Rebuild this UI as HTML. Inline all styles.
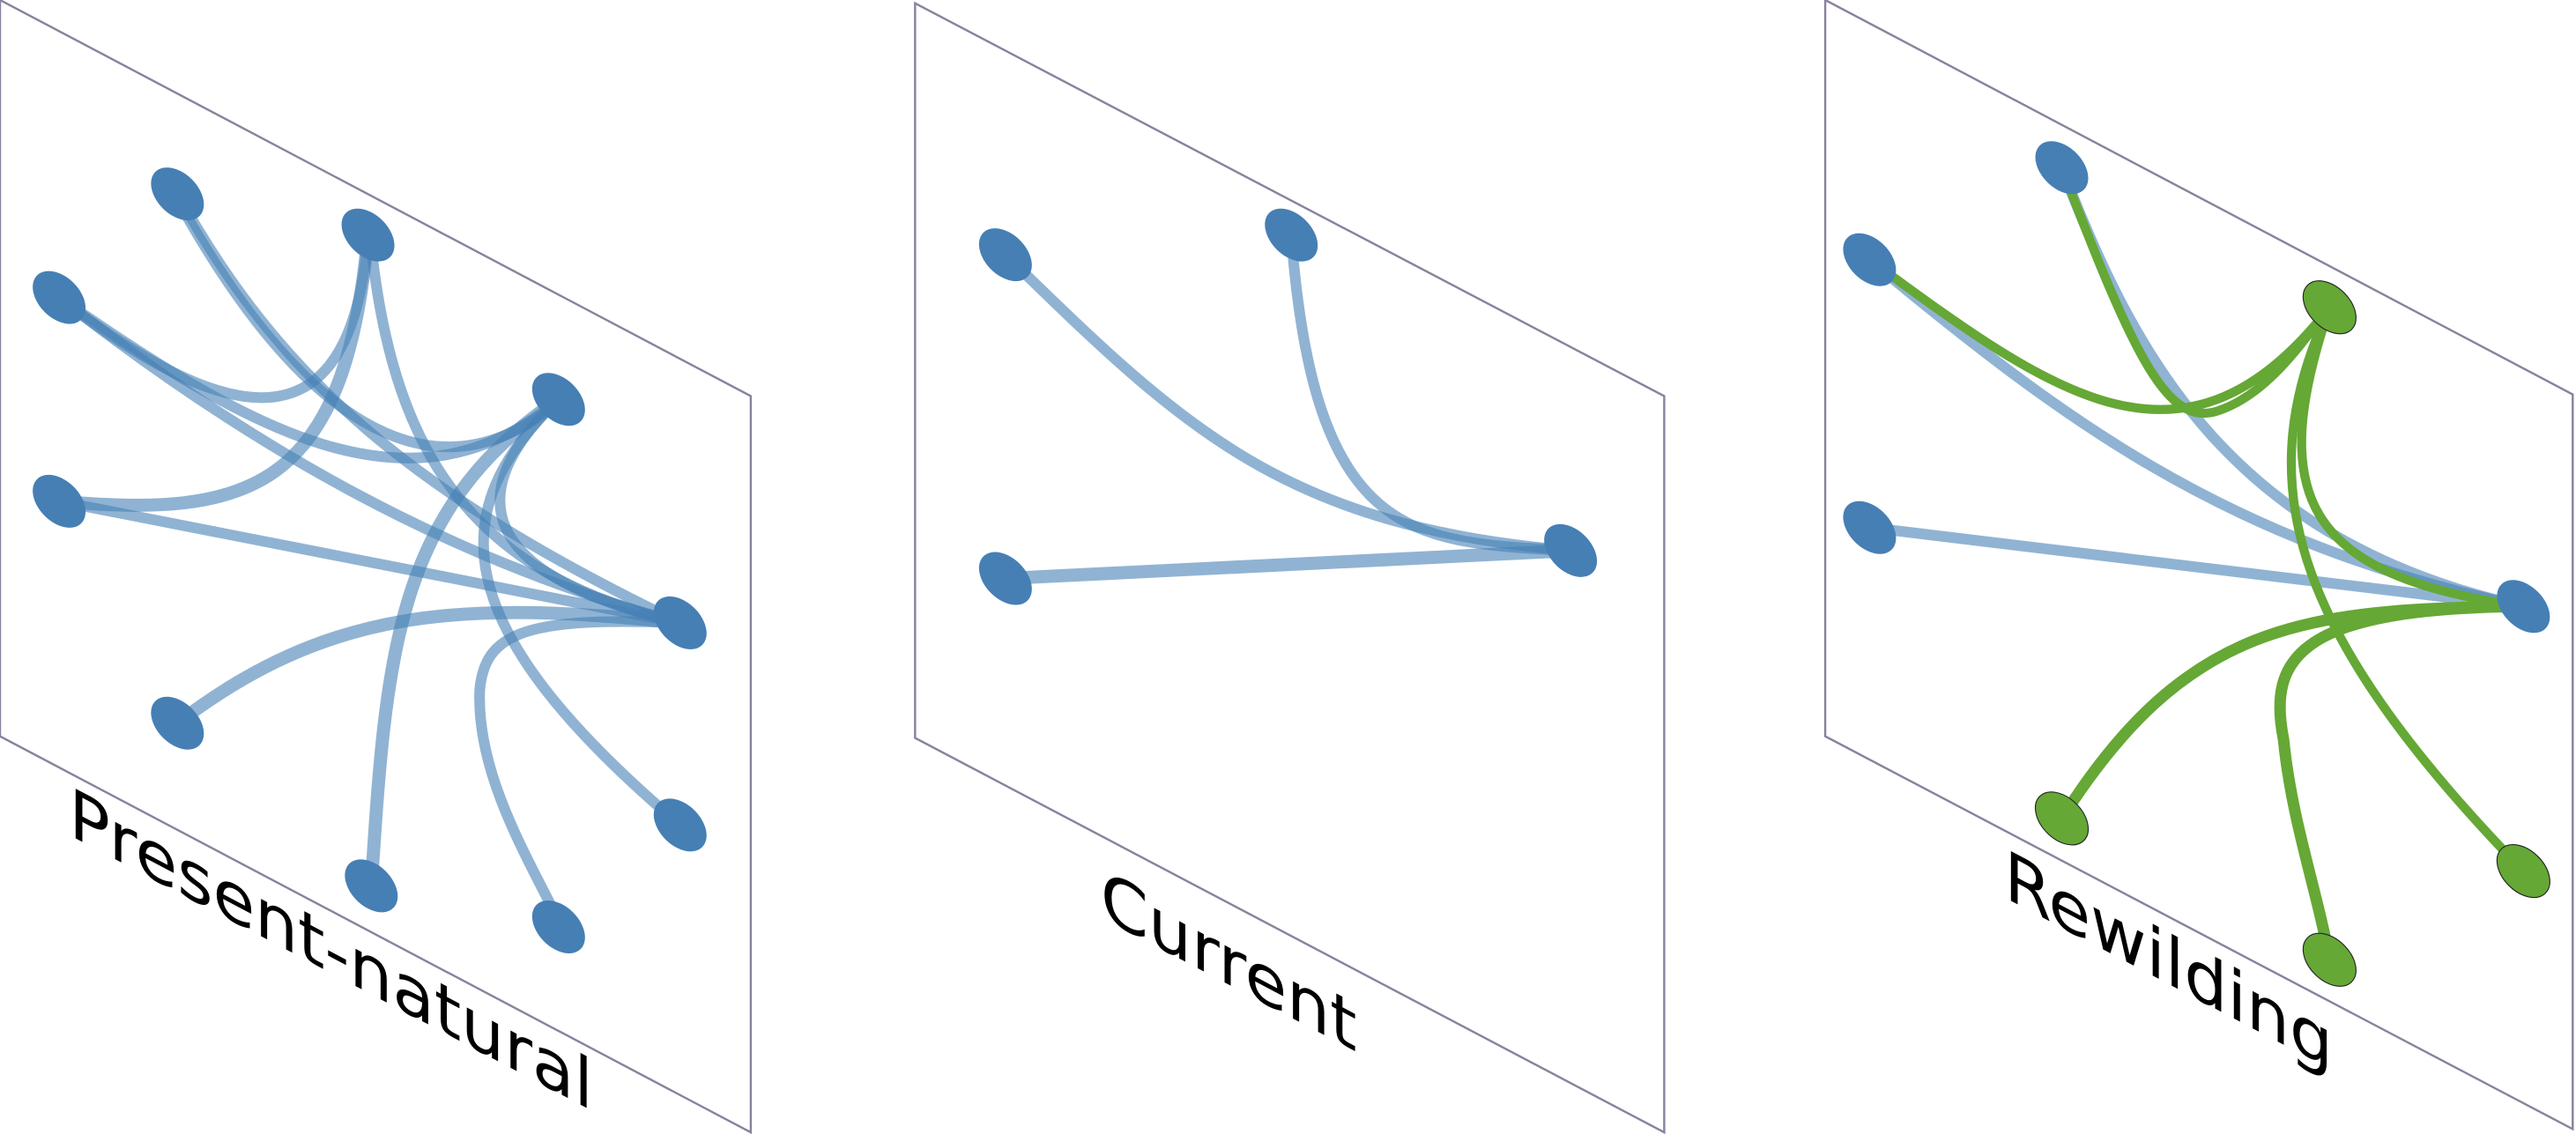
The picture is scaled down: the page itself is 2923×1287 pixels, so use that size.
<!DOCTYPE html>
<html><head><meta charset="utf-8"><style>
html,body{margin:0;padding:0;background:#fff;width:2923px;height:1287px;overflow:hidden}
svg{display:block}
text{font-family:"DejaVu Sans","Liberation Sans",sans-serif}
</style></head><body>
<svg id="chart" width="2923" height="1287" viewBox="0 0 1568 690" preserveAspectRatio="none" xmlns="http://www.w3.org/2000/svg">
<g id="frames"></g><g id="edges"></g><g id="nodes"></g><g id="labels"></g>
</svg>
<script>
const panelNames = ["Present-natural","Current","Rewilding"];
const panelFrames = [[0,0,457,241,457,689,0,448],[557,2,1013,241,1013,689,557,449],[1111,0,1566,240,1566,687,1111,448]];
const labelPos = [[42,508],[670,558],[1220,546]];
// nodes: [x, y, group] group 0 blue, 1 green
const nodes0 = [[108,118,0],[224,143,0],[36,181,0],[340,243,0],[36,305,0],[414,379,0],[108,440,0],[226,539,0],[340,564,0],[414,502,0]];
const nodes1 = [[612,155,0],[786,143,0],[612,352,0],[956,335,0]];
const nodes2 = [[1255,102,0],[1138,158,0],[1138,321,0],[1536,369,0],[1418,187,1],[1255,498,1],[1536,530,1],[1418,584,1]];
// edges: path strings, colour group, width
const edges0 = [
 ["M108,118 C170,230 250,300 414,379",0,6.5],
 ["M110,125 C180,250 260,310 338,246",0,6.5],
 ["M224,143 C215,265 150,270 36,181",0,6.5],
 ["M224,143 C210,300 150,315 36,305",0,8],
 ["M226,150 C240,280 290,350 414,379",0,6.5],
 ["M36,181 C150,260 250,320 340,243",0,6.5],
 ["M36,181 C150,270 270,340 414,379",0,6.5],
 ["M36,305 L414,379",0,6.5],
 ["M340,243 C280,300 290,350 414,379",0,6.5],
 ["M340,243 C240,310 235,400 226,539",0,8],
 ["M340,243 C270,310 270,380 414,502",0,6.5],
 ["M108,440 C200,370 280,365 414,379",0,8],
 ["M414,379 C320,375 295,385 292,420 C290,470 320,520 340,560",0,6.5]];
const edges1 = [
 ["M612,155 C720,260 780,320 956,335",0,6.5],
 ["M786,143 C800,330 860,330 956,335",0,6.5],
 ["M612,352 L956,335",0,8]];
const edges2 = [
 ["M1138,158 C1250,250 1350,330 1536,369",0,6.5],
 ["M1255,102 C1300,220 1360,330 1536,369",0,6.5],
 ["M1138,321 L1536,369",0,6.5],
 ["M1255,102 C1300,220 1320,260 1350,250 C1380,240 1400,210 1418,187",1,5.5],
 ["M1138,158 C1250,240 1330,300 1418,187",1,5.5],
 ["M1418,187 C1380,300 1400,350 1536,369",1,5.5],
 ["M1418,187 C1370,290 1390,380 1536,530",1,5.5],
 ["M1536,369 C1400,370 1330,380 1255,498",1,7],
 ["M1536,369 C1400,370 1380,400 1390,450 C1395,500 1410,540 1418,584",1,7]];
const NS="http://www.w3.org/2000/svg";
const edgeCol=["rgba(70,128,181,0.6)","#65a835"], nodeCol=["#467fb4","#65a835"];
const fG=document.getElementById('frames'),eG=document.getElementById('edges'),nG=document.getElementById('nodes'),lG=document.getElementById('labels');
panelFrames.forEach((f,i)=>{
 const p=document.createElementNS(NS,'polygon');
 p.setAttribute('points',`${f[0]},${f[1]} ${f[2]},${f[3]} ${f[4]},${f[5]} ${f[6]},${f[7]}`);
 p.setAttribute('fill','none');p.setAttribute('stroke','#8a819e');p.setAttribute('stroke-width','1.3');
 
 
 fG.appendChild(p);
 const t=document.createElementNS(NS,'text');
 t.setAttribute('transform',`translate(${labelPos[i][0]},${labelPos[i][1]}) skewY(27.8)`);
 t.setAttribute('font-size','41.5');t.setAttribute('fill','#000');
 t.textContent=panelNames[i];
 
 
 lG.appendChild(t);
});
[edges0,edges1,edges2].forEach(es=>es.forEach(e=>{
 const p=document.createElementNS(NS,'path');
 p.setAttribute('d',e[0]);p.setAttribute('fill','none');
 p.setAttribute('stroke',edgeCol[e[1]]);p.setAttribute('stroke-width',e[2]);p.setAttribute('stroke-linecap','round');
 
 
 eG.appendChild(p);
}));
[nodes0,nodes1,nodes2].forEach(ns=>ns.forEach(n=>{
 const el=document.createElementNS(NS,'ellipse');
 el.setAttribute('cx',n[0]);el.setAttribute('cy',n[1]);el.setAttribute('rx',19);el.setAttribute('ry',12.5);
 el.setAttribute('transform',`rotate(45 ${n[0]} ${n[1]})`);
 el.setAttribute('fill',nodeCol[n[2]]);
 if(n[2]===1){el.setAttribute('stroke','#222');el.setAttribute('stroke-width','0.6');}
 
 
 nG.appendChild(el);
}));
</script>
</body></html>
